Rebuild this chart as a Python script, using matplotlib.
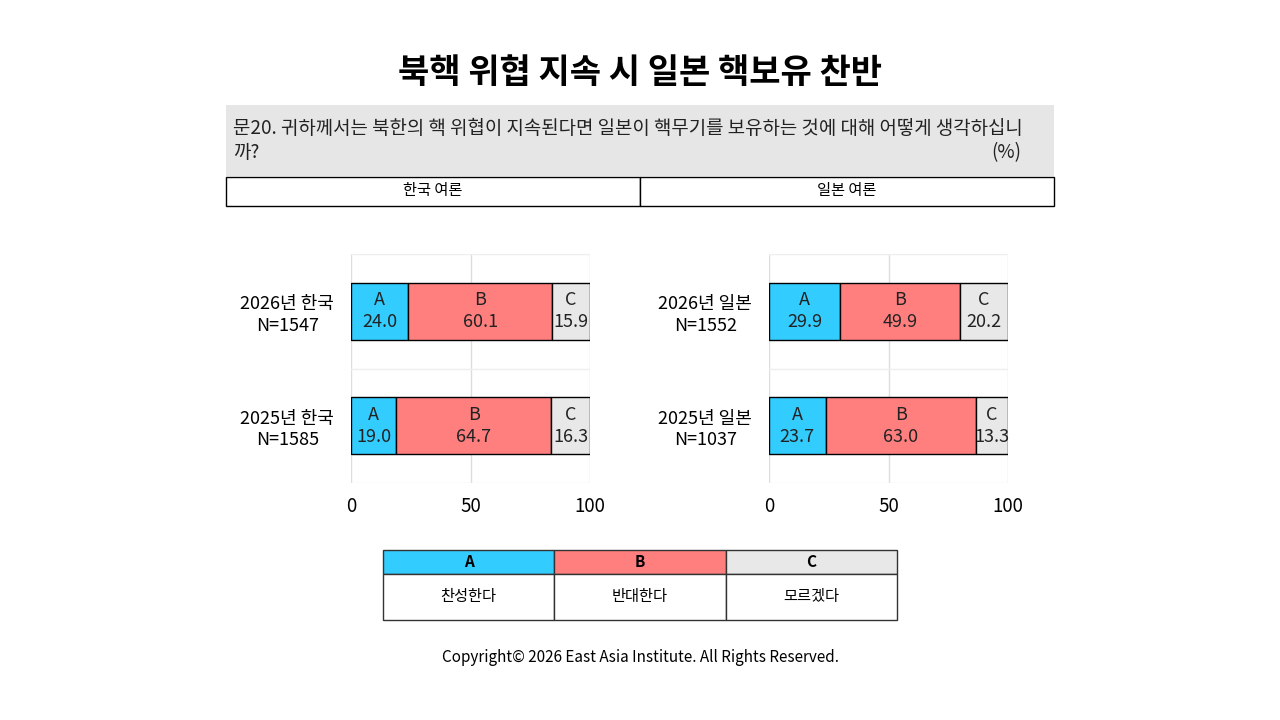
import matplotlib
matplotlib.use("Agg")
import matplotlib.pyplot as plt
from matplotlib.patches import Rectangle
import numpy as np

plt.rcParams['font.family'] = ['Noto Sans CJK KR', 'DejaVu Sans']

title = "북핵 위협 지속 시 일본 핵보유 찬반"
question_lines = ["문20. 귀하께서는 북한의 핵 위협이 지속된다면 일본이 핵무기를 보유하는 것에 대해 어떻게 생각하십니", "까?"]
panel_titles = ["한국 여론", "일본 여론"]
codes = ["A", "B", "C"]
answers = ["찬성한다", "반대한다", "모르겠다"]
colors = ["#33ccff", "#ff7f7f", "#e8e8e8"]

kr_labels = ["2026년 한국\nN=1547", "2025년 한국\nN=1585"]
kr_values = [[24.0, 60.1, 15.9], [19.0, 64.7, 16.3]]
jp_labels = ["2026년 일본\nN=1552", "2025년 일본\nN=1037"]
jp_values = [[29.9, 49.9, 20.2], [23.7, 63.0, 13.3]]
xticks = [0, 50, 100]

W, H = 1280, 720
fig = plt.figure(figsize=(12.8, 7.2), dpi=100)

def fx(px): return px / W
def fy(py): return 1 - py / H

# Title
fig.text(0.5, fy(72), title, ha='center', va='center', fontsize=24.5, fontweight='bold')

# Question box
fig.patches.append(Rectangle((fx(226), fy(176)), fx(1054 - 226), (176 - 105) / H,
                             transform=fig.transFigure, facecolor='#e6e6e6', edgecolor='none'))
fig.text(fx(233), fy(129), question_lines[0], ha='left', va='center', fontsize=13.6,
         color='#222222')
fig.text(fx(233), fy(152), question_lines[1], ha='left', va='center', fontsize=13.6,
         color='#222222')
fig.text(fx(1021), fy(153), "(%)", ha='right', va='center', fontsize=13.5, color='#222222')

# Header row
for x0, x1, t in [(226, 640, panel_titles[0]), (640, 1054, panel_titles[1])]:
    fig.patches.append(Rectangle((fx(x0), fy(206)), fx(x1 - x0), (206 - 177) / H,
                                 transform=fig.transFigure, facecolor='white',
                                 edgecolor='black', linewidth=1))
    fig.text(fx((x0 + x1) / 2), fy(191), t, ha='center', va='center', fontsize=11)

def panel(left_px, labels, values):
    ax = fig.add_axes([fx(left_px), fy(483), fx(239), (483 - 254) / H])
    ax.set_xlim(0, 100)
    ax.set_ylim(1.5, -0.5)
    ypos = np.arange(len(labels))
    vals = np.array(values)
    lefts = np.zeros(len(labels))
    for j in range(vals.shape[1]):
        ax.barh(ypos, vals[:, j], left=lefts, height=0.5, color=colors[j],
                edgecolor='black', linewidth=1, zorder=3)
        for i in ypos:
            ax.text(lefts[i] + vals[i, j] / 2, i, f"{codes[j]}\n{vals[i, j]:.1f}",
                    ha='center', va='center', fontsize=13, color='#222222',
                    linespacing=1.3, zorder=4)
        lefts += vals[:, j]
    for x in xticks:
        ax.axvline(x, color='#dddddd', linewidth=1, zorder=1)
    for y in [-0.5, 0.5, 1.5]:
        ax.axhline(y, color='#eeeeee', linewidth=1, zorder=1)
    for s in ax.spines.values():
        s.set_visible(False)
    ax.set_xticks(xticks)
    ax.set_xticklabels([str(x) for x in xticks], fontsize=13.5)
    ax.set_yticks(ypos)
    ax.set_yticklabels(labels, fontsize=13, multialignment='center', linespacing=1.25)
    ax.tick_params(length=0, pad=9)
    ax.tick_params(axis='y', pad=12)
    return ax

panel(351, kr_labels, kr_values)
panel(769, jp_labels, jp_values)

# Legend table
lx0, cw = 383, 171.33
for k in range(3):
    x0 = lx0 + k * cw
    fig.patches.append(Rectangle((fx(x0), fy(574)), fx(cw), (574 - 550) / H,
                                 transform=fig.transFigure, facecolor=colors[k],
                                 edgecolor='#333333', linewidth=1))
    fig.patches.append(Rectangle((fx(x0), fy(620)), fx(cw), (620 - 574) / H,
                                 transform=fig.transFigure, facecolor='white',
                                 edgecolor='#333333', linewidth=1))
    fig.text(fx(x0 + cw / 2), fy(562), codes[k], ha='center', va='center',
             fontsize=11, fontweight='bold')
    fig.text(fx(x0 + cw / 2), fy(597), answers[k], ha='center', va='center', fontsize=11)

fig.text(0.5, fy(657), "Copyright© 2026 East Asia Institute. All Rights Reserved.",
         ha='center', va='center', fontsize=11)

fig.savefig("out.png", dpi=100)
